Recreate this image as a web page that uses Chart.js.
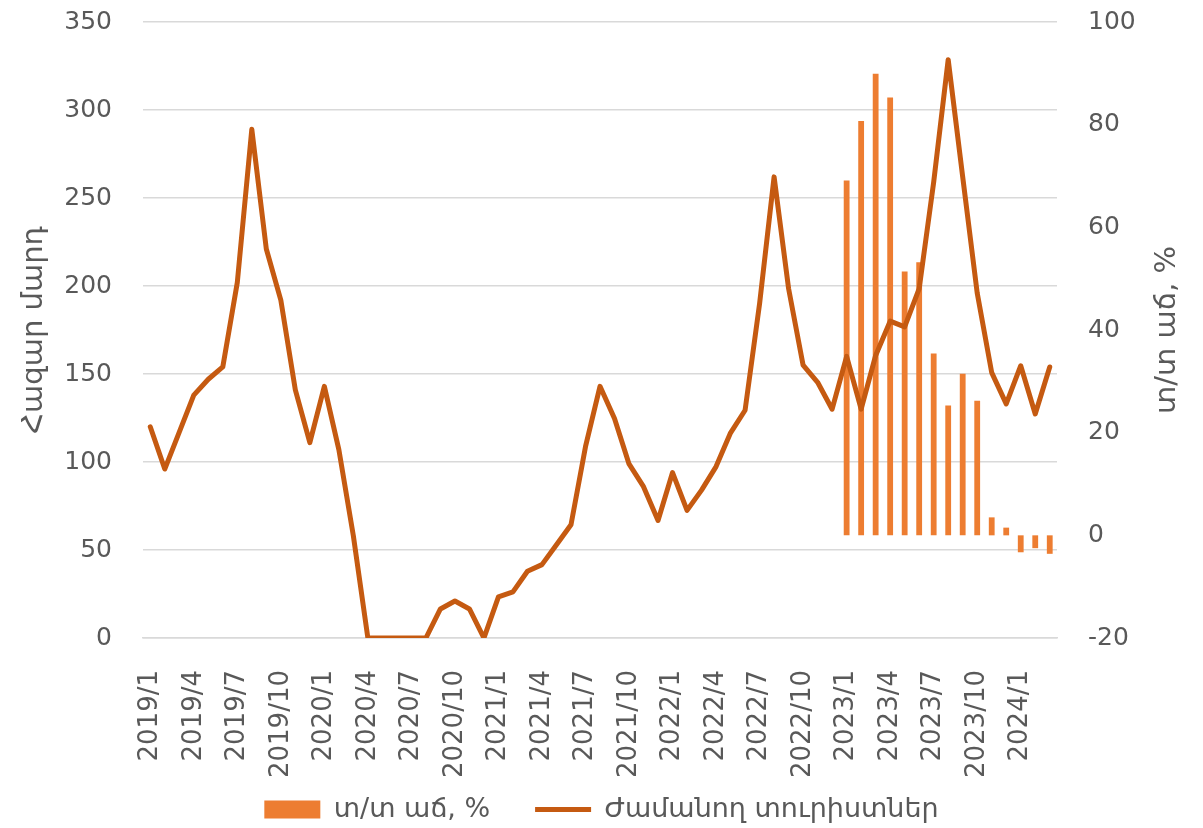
<!DOCTYPE html>
<html>
<head>
<meta charset="utf-8">
<script src="https://cdn.jsdelivr.net/npm/chart.js@4.4.1/dist/chart.umd.min.js"></script>
<style>
  html, body { margin: 0; padding: 0; background: #fff; }
  #wrap { width: 1203px; height: 828px; }
</style>
</head>
<body>
<div id="wrap"><canvas id="chart"></canvas></div>
<script>
// months on the x axis
var months = [
  '2019/1','2019/2','2019/3','2019/4','2019/5','2019/6','2019/7','2019/8','2019/9','2019/10','2019/11','2019/12',
  '2020/1','2020/2','2020/3','2020/4','2020/5','2020/6','2020/7','2020/8','2020/9','2020/10','2020/11','2020/12',
  '2021/1','2021/2','2021/3','2021/4','2021/5','2021/6','2021/7','2021/8','2021/9','2021/10','2021/11','2021/12',
  '2022/1','2022/2','2022/3','2022/4','2022/5','2022/6','2022/7','2022/8','2022/9','2022/10','2022/11','2022/12',
  '2023/1','2023/2','2023/3','2023/4','2023/5','2023/6','2023/7','2023/8','2023/9','2023/10','2023/11','2023/12',
  '2024/1','2024/2','2024/3'
];

// arriving tourists, thousand people
var tourists = [
  120, 96, 117, 138, 147, 154, 202, 289, 221, 192, 141, 111,
  143, 107, 58, 0, 0, 0, 0, 0, 16.5, 21, 16.5, 0,
  23.4, 26.2, 37.9, 41.7, 53, 64.3, 108.7, 143, 124.7, 98.9, 86, 66.8,
  94, 72.5, 84, 97.4, 116.6, 129.4, 190, 262, 198.5, 155, 145.3, 130,
  160, 130, 160.5, 180, 176.8, 198.5, 259, 328.6, 262, 196, 150.8, 133,
  154.7, 127.3, 154
];

// y/y growth, %
var growth = [
  null, null, null, null, null, null, null, null, null, null, null, null,
  null, null, null, null, null, null, null, null, null, null, null, null,
  null, null, null, null, null, null, null, null, null, null, null, null,
  null, null, null, null, null, null, null, null, null, null, null, null,
  69.1, 80.7, 89.9, 85.3, 51.4, 53.2, 35.4, 25.3, 31.5, 26.2, 3.5, 1.5,
  -3.3, -2.5, -3.6
];

var leftTicks = { min: 0, max: 350, step: 50 };
var rightTicks = { min: -20, max: 100, step: 20 };

var leftTitle = 'Հազար մարդ';
var rightTitle = 'տ/տ աճ, %';
var barName = 'տ/տ աճ, %';
var lineName = 'Ժամանող տուրիստներ';

var tickColor = '#595959';
var yTickFont = { family: 'DejaVu Sans', size: 25 };
var xTickFont = { family: 'DejaVu Sans', size: 26 };

// right axis title reads bottom-to-top like the left one
var rightTitlePlugin = {
  id: 'rightTitle',
  afterDraw: function(chart) {
    var ctx = chart.ctx;
    var area = chart.chartArea;
    ctx.save();
    ctx.translate(1167, (area.top + area.bottom) / 2);
    ctx.rotate(-Math.PI / 2);
    ctx.fillStyle = tickColor;
    ctx.font = '29px "DejaVu Sans"';
    ctx.textAlign = 'center';
    ctx.textBaseline = 'middle';
    ctx.fillText(rightTitle, 0, 0);
    ctx.restore();
  }
};

var ctx = document.getElementById('chart').getContext('2d');
new Chart(ctx, {
  type: 'bar',
  data: {
    labels: months,
    datasets: [
      {
        type: 'bar',
        label: barName,
        data: growth,
        yAxisID: 'y1',
        backgroundColor: '#ED7D31',
        borderWidth: 0,
        barPercentage: 0.4,
        categoryPercentage: 1,
        pointStyle: 'rect',
        order: 1
      },
      {
        type: 'line',
        label: lineName,
        data: tourists,
        yAxisID: 'y',
        borderColor: '#C55A11',
        backgroundColor: '#C55A11',
        borderWidth: 5,
        borderJoinStyle: 'round',
        borderCapStyle: 'round',
        pointRadius: 0,
        pointStyle: 'line',
        tension: 0,
        order: 0
      }
    ]
  },
  options: {
    responsive: true,
    maintainAspectRatio: false,
    animation: false,
    layout: { padding: { top: 22, right: 0, left: 0, bottom: -5 } },
    plugins: {
      tooltip: { enabled: false },
      legend: {
        position: 'bottom',
        labels: {
          usePointStyle: true,
          pointStyleWidth: 56,
          boxHeight: 18,
          padding: 2,
          color: tickColor,
          font: { family: 'DejaVu Sans', size: 27 },
          sort: function(a, b) { return a.datasetIndex - b.datasetIndex; },
          generateLabels: function(chart) {
            var items = Chart.defaults.plugins.legend.labels.generateLabels(chart);
            items.forEach(function(it) {
              if (it.datasetIndex === 0) it.text = it.text + '     ';
            });
            return items;
          }
        }
      }
    },
    scales: {
      x: {
        offset: true,
        grid: { display: false, drawTicks: false },
        border: { display: true, color: '#D9D9D9', width: 1.5 },
        ticks: {
          autoSkip: false,
          minRotation: 90,
          maxRotation: 90,
          padding: 32,
          color: tickColor,
          font: xTickFont,
          callback: function(value, index) {
            return index % 3 === 0 ? months[index] : '';
          }
        },
        afterFit: function(scale) { scale.height = 156; }
      },
      y: {
        position: 'left',
        min: leftTicks.min,
        max: leftTicks.max,
        ticks: { stepSize: leftTicks.step, padding: 1, color: tickColor, font: yTickFont },
        grid: { color: '#D9D9D9', lineWidth: 1.5, drawTicks: true, tickLength: 30, tickColor: 'rgba(0,0,0,0)' },
        border: { display: false },
        title: {
          display: true,
          text: leftTitle,
          color: tickColor,
          font: { family: 'DejaVu Sans', size: 29 },
          padding: { top: 17, bottom: 0 }
        },
        afterFit: function(scale) { scale.width = 143; }
      },
      y1: {
        position: 'right',
        min: rightTicks.min,
        max: rightTicks.max,
        ticks: { stepSize: rightTicks.step, padding: 1, color: tickColor, font: yTickFont },
        grid: { display: false, drawTicks: true, tickLength: 30, tickColor: 'rgba(0,0,0,0)' },
        border: { display: false },
        afterFit: function(scale) { scale.width = 146; }
      }
    }
  },
  plugins: [rightTitlePlugin]
});
</script>
</body>
</html>
